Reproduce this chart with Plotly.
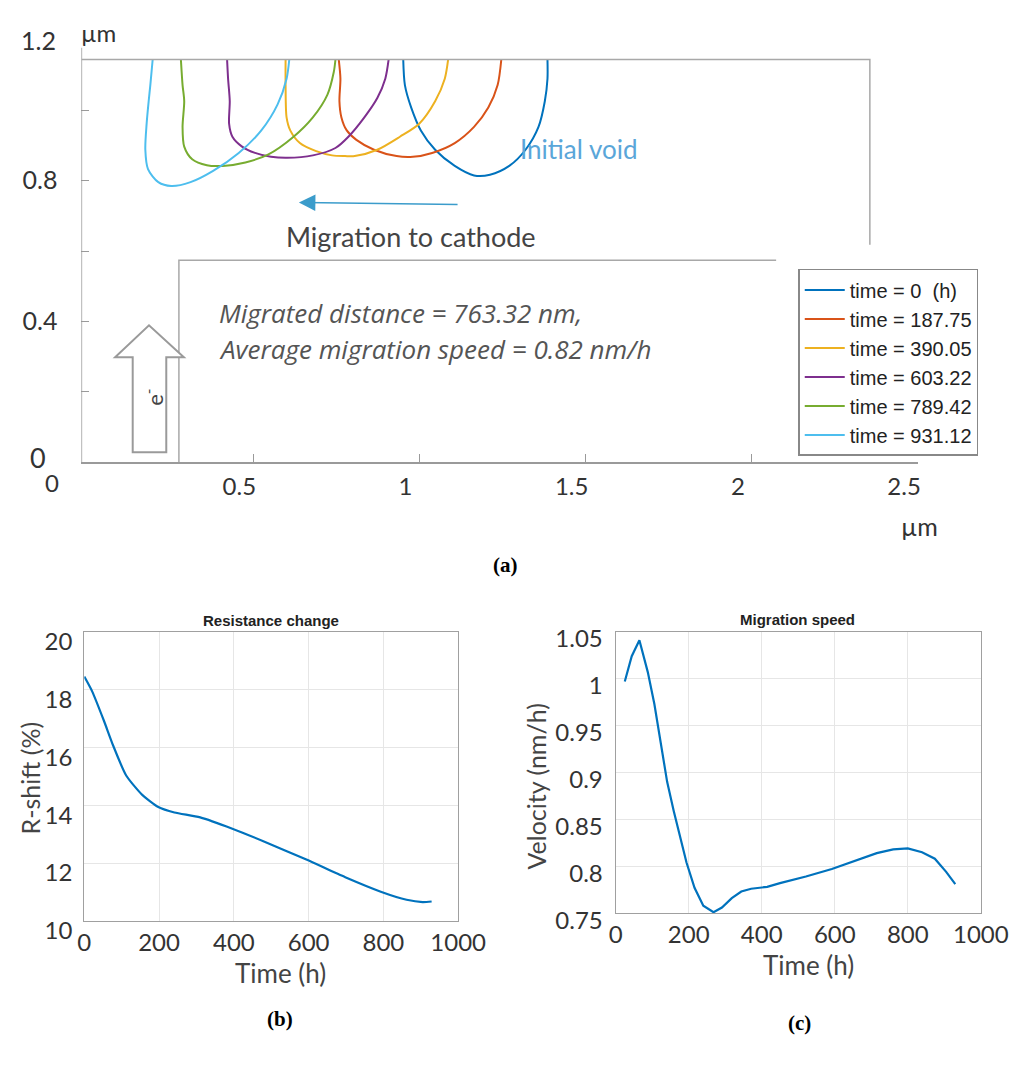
import plotly.graph_objects as go

# ---------------- (a) void contours, coordinates in µm ----------------
void_times = ["0", "187.75", "390.05", "603.22", "789.42", "931.12"]
void_colors = ["#0072BD", "#D95319", "#EDB120", "#7E2F8E", "#77AC30", "#4DBEEE"]

void_x_t0 = [0.951, 0.956, 0.975, 1.004, 1.047, 1.106, 1.164, 1.212, 1.270, 1.319, 1.358, 1.377, 1.385, 1.385]
void_y_t0 = [1.144, 1.072, 1.008, 0.943, 0.888, 0.842, 0.815, 0.817, 0.842, 0.888, 0.953, 1.026, 1.090, 1.144]

void_x_t1 = [0.757, 0.762, 0.759, 0.765, 0.781, 0.810, 0.863, 0.931, 0.980, 1.038, 1.106, 1.164, 1.207, 1.235, 1.246]
void_y_t1 = [1.144, 1.090, 1.026, 0.980, 0.943, 0.916, 0.888, 0.870, 0.868, 0.879, 0.907, 0.953, 1.008, 1.072, 1.144]

void_x_t2 = [0.597, 0.597, 0.600, 0.611, 0.640, 0.689, 0.737, 0.776, 0.805, 0.873, 0.941, 0.999, 1.047, 1.076, 1.086]
void_y_t2 = [1.144, 1.072, 0.980, 0.943, 0.907, 0.884, 0.872, 0.870, 0.870, 0.888, 0.925, 0.962, 1.026, 1.090, 1.144]

void_x_t3 = [0.421, 0.424, 0.429, 0.427, 0.437, 0.466, 0.505, 0.553, 0.602, 0.679, 0.747, 0.786, 0.834, 0.873, 0.897, 0.907]
void_y_t3 = [1.144, 1.090, 1.026, 0.962, 0.925, 0.897, 0.879, 0.868, 0.865, 0.872, 0.893, 0.925, 0.980, 1.035, 1.090, 1.144]

void_x_t4 = [0.282, 0.287, 0.292, 0.287, 0.292, 0.316, 0.360, 0.408, 0.476, 0.544, 0.621, 0.679, 0.723, 0.742, 0.747]
void_y_t4 = [1.144, 1.072, 1.026, 0.953, 0.897, 0.861, 0.844, 0.842, 0.852, 0.874, 0.925, 0.980, 1.045, 1.109, 1.144]

void_x_t5 = [0.197, 0.190, 0.185, 0.179, 0.175, 0.183, 0.214, 0.253, 0.311, 0.379, 0.456, 0.524, 0.573, 0.600, 0.608]
void_y_t5 = [1.144, 1.072, 1.026, 0.963, 0.888, 0.833, 0.796, 0.785, 0.796, 0.828, 0.879, 0.943, 1.017, 1.090, 1.144]

void_x = [void_x_t0, void_x_t1, void_x_t2, void_x_t3, void_x_t4, void_x_t5]
void_y = [void_y_t0, void_y_t1, void_y_t2, void_y_t3, void_y_t4, void_y_t5]

# interconnect outline (µm)
line_top_y = 1.145
line_right_x = 2.355
line_right_bottom_y = 0.618
via_x = 0.276
via_top_y = 0.574
via_line_end_x = 2.073

# (a) axis ticks
a_xticks = [0.5, 1, 1.5, 2, 2.5]
a_xticklabels = ["0.5", "1", "1.5", "2", "2.5"]
a_yticks = [0.2, 0.4, 0.6, 0.8, 1.0]
a_yticklabels = [" ", "0.4", " ", "0.8", " "]

# ---------------- (b) resistance change ----------------
time_b = [0, 21, 52, 78, 112, 155, 198, 241, 310, 396, 482, 594, 698, 793, 862, 905, 929]
rshift = [18.45, 17.94, 16.94, 16.04, 15.03, 14.36, 13.94, 13.75, 13.58, 13.19, 12.74,
          12.12, 11.51, 11.01, 10.73, 10.65, 10.67]

# ---------------- (c) migration speed ----------------
time_c = [25, 44, 65, 88, 106, 124, 141, 159, 177, 194, 216, 240, 268, 291, 318, 344, 371,
          415, 450, 521, 592, 654, 715, 760, 800, 839, 874, 905, 930]
velocity = [0.997, 1.024, 1.041, 1.007, 0.973, 0.931, 0.890, 0.859, 0.832, 0.804, 0.777,
            0.758, 0.751, 0.756, 0.766, 0.773, 0.776, 0.778, 0.782, 0.789, 0.797, 0.806,
            0.814, 0.818, 0.819, 0.815, 0.808, 0.794, 0.781]

W, H = 1033, 1070
TICK_FONT = "Lato, 'Open Sans', sans-serif"
ITALIC_FONT = "'Open Sans', Lato, sans-serif"
ARIAL = "'Liberation Sans', Arial, sans-serif"
SERIF = "'Liberation Serif', 'Times New Roman', serif"


def px_x(p):
    return p / W


def px_y(p):
    return 1 - p / H


def label(text, x, y, size, color="#333", family=TICK_FONT, xanchor="center", angle=0,
          xref="paper", yref="paper"):
    return dict(text=text, x=x, y=y, xref=xref, yref=yref, xanchor=xanchor, yanchor="middle",
                textangle=angle, showarrow=False,
                font=dict(family=family, size=size, color=color))


fig = go.Figure()

for i, t in enumerate(void_times):
    name = "time = " + t + (" \u00a0(h)" if i == 0 else "")
    fig.add_trace(go.Scatter(
        x=void_x[i], y=void_y[i], mode="lines", name=name,
        line=dict(color=void_colors[i], width=2, shape="spline", smoothing=0.8),
        xaxis="x", yaxis="y", hoverinfo="skip",
    ))

fig.add_trace(go.Scatter(
    x=time_b, y=rshift, mode="lines", showlegend=False,
    line=dict(color="#0072BD", width=2.2, shape="spline", smoothing=0.6),
    xaxis="x2", yaxis="y2",
))
fig.add_trace(go.Scatter(
    x=time_c, y=velocity, mode="lines", showlegend=False,
    line=dict(color="#0072BD", width=2.2),
    xaxis="x3", yaxis="y3",
))

gray = "#a8a8a8"
shapes = [
    # left axis line of (a)
    dict(type="line", xref="x", yref="y", x0=-0.0174, x1=-0.0174, y0=0, y1=1.178,
         line=dict(color="#9a9a9a", width=1.5)),
    # upper metal boundary and right end
    dict(type="path", xref="x", yref="y",
         path=f"M -0.0174,{line_top_y} L {line_right_x},{line_top_y} L {line_right_x},{line_right_bottom_y}",
         line=dict(color=gray, width=1.5)),
    # via step
    dict(type="path", xref="x", yref="y",
         path=f"M {via_x},0 L {via_x},{via_top_y} L {via_line_end_x},{via_top_y}",
         line=dict(color=gray, width=1.5)),
    # electron flow arrow (hollow)
    dict(type="path", xref="x", yref="y",
         path="M 0.137,0.028 L 0.238,0.028 L 0.238,0.298 L 0.291,0.298 L 0.186,0.389 "
              "L 0.084,0.298 L 0.137,0.298 Z",
         line=dict(color="#9a9a9a", width=2), fillcolor="white"),
]

annotations = [
    # (a) extra tick labels and unit labels
    label("1.2", px_x(53), 1.2, 25, xanchor="right", yref="y"),
    label("0", px_x(32), px_y(462), 27),
    label("0", px_x(47), px_y(488), 24),
    label("µm", px_x(95), px_y(24), 24),
    label("µm", px_x(945), px_y(533), 25),
    label("Migration to cathode", px_x(287), px_y(235), 27, color="#444", xanchor="left"),
    label("Initial void", px_x(592), px_y(144), 26, color="#5aa6d9"),
    label("<i>Migrated distance = 763.32 nm,</i>", px_x(217), px_y(313), 26, color="#555",
          family=ITALIC_FONT, xanchor="left"),
    label("<i>Average migration speed = 0.82 nm/h</i>", px_x(217), px_y(350), 26, color="#555",
          family=ITALIC_FONT, xanchor="left"),
    dict(text="", x=0.637, y=0.738, ax=1.119, ay=0.732, xref="x", yref="y", axref="x", ayref="y",
         showarrow=True, arrowhead=2, arrowsize=2.2, arrowwidth=1.5, arrowcolor="#3b9ccb"),
    label("e<sup>-</sup>", 0.2006, 0.185, 22, color="#444", angle=-90, xref="x", yref="y"),
    label("<b>(a)</b>", px_x(516), px_y(573), 21, color="black", family=SERIF),
    # (b)
    label("<b>Resistance change</b>", px_x(273), px_y(630), 15, color="#222", family=ARIAL),
    label("R-shift (%)", px_x(24), px_y(793), 25, color="#444", angle=-90),
    label("Time (h)", px_x(283), px_y(994), 26, color="#444"),
    label("<b>(b)</b>", px_x(283), px_y(1041), 21, color="black", family=SERIF),
    # (c)
    label("<b>Migration speed</b>", px_x(818), px_y(629), 15, color="#222", family=ARIAL),
    label("Velocity (nm/h)", px_x(548), px_y(801), 25, color="#444", angle=-90),
    label("Time (h)", px_x(830), px_y(985), 26, color="#444"),
    label("<b>(c)</b>", px_x(820), px_y(1045), 21, color="black", family=SERIF),
]

box_axis = dict(showline=True, mirror=True, linecolor="#a0a0a0", linewidth=1.2,
                showgrid=True, gridcolor="#e6e6e6", gridwidth=1, zeroline=False, ticks="",
                tickfont=dict(family=TICK_FONT, size=24, color="#333"))

fig.update_layout(
    width=W, height=H,
    margin=dict(l=0, r=0, t=0, b=0),
    paper_bgcolor="white", plot_bgcolor="rgba(0,0,0,0)",
    showlegend=True,
    legend=dict(x=px_x(819), y=px_y(268), xanchor="left", yanchor="top",
                bordercolor="#888", borderwidth=1.5, bgcolor="white",
                font=dict(family=ARIAL, size=20, color="#222"), tracegroupgap=0,
                itemwidth=40),
    xaxis=dict(domain=[px_x(77), px_x(943)], range=[-0.0174, 2.5], anchor="y",
               showline=True, linecolor="#9a9a9a", linewidth=1.5, showgrid=False, zeroline=False,
               tickvals=a_xticks, ticktext=a_xticklabels, ticks="inside", ticklen=8,
               tickcolor="#9a9a9a", tickwidth=1.2, ticklabelshift=-14, ticklabelstandoff=2,
               tickfont=dict(family=TICK_FONT, size=24, color="#333")),
    yaxis=dict(domain=[px_y(467), px_y(32)], range=[0, 1.2], anchor="x",
               showline=False, showgrid=False, zeroline=False,
               tickvals=a_yticks, ticktext=a_yticklabels, ticks="inside", ticklen=8,
               tickcolor="#9a9a9a", tickwidth=1.2, ticklabelstandoff=23,
               tickfont=dict(family=TICK_FONT, size=25, color="#333")),
    xaxis2=dict(box_axis, domain=[px_x(80), px_x(467)], range=[0, 1000], anchor="y2",
                tickvals=[0, 200, 400, 600, 800, 1000], ticklabelstandoff=0),
    yaxis2=dict(box_axis, domain=[px_y(940), px_y(642)], range=[10, 20], anchor="x2",
                tickvals=[10, 12, 14, 16, 18, 20],
                ticklabelstandoff=6, ticklabelshift=10),
    xaxis3=dict(box_axis, domain=[px_x(630), px_x(1008)], range=[0, 1000], anchor="y3",
                tickvals=[0, 200, 400, 600, 800, 1000], ticklabelstandoff=0),
    yaxis3=dict(box_axis, domain=[px_y(932), px_y(642)], range=[0.75, 1.05], anchor="x3",
                tickvals=[0.75, 0.8, 0.85, 0.9, 0.95, 1.0, 1.05],
                ticktext=["0.75", "0.8", "0.85", "0.9", "0.95", "1", "1.05"],
                ticklabelstandoff=7, ticklabelshift=7),
    shapes=shapes,
    annotations=annotations,
)

fig.write_html("out.html")
